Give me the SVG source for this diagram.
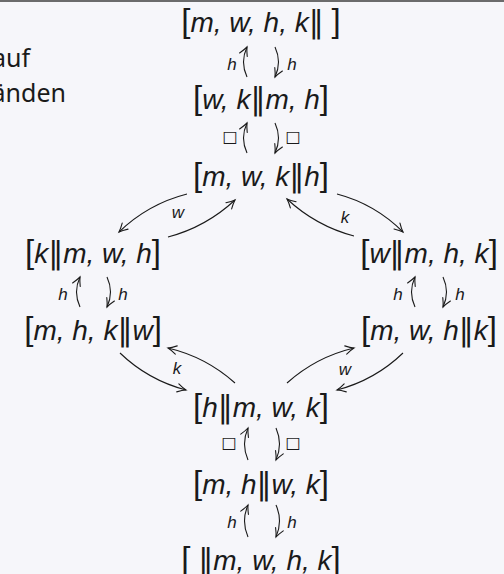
<svg xmlns="http://www.w3.org/2000/svg" width="504" height="574" viewBox="0 0 504 574">
<defs>
<marker id="ah" markerUnits="userSpaceOnUse" markerWidth="14" markerHeight="12" viewBox="-10 -6 12 12" refX="0" refY="0" orient="auto">
<path d="M -8.5 -4.2 Q -3.5 -1.2 0 0 Q -3.5 1.2 -8.5 4.2" fill="none" stroke="#1a1a1a" stroke-width="1.1" stroke-linecap="round"/>
</marker>
<style>
.n { font-family: "Liberation Sans", "DejaVu Sans", sans-serif; font-size: 28px; font-style: italic; fill: #1a1a1a; text-anchor: middle; }
.b { font-style: normal; font-size: 33px; }
.p { font-family: "DejaVu Sans", sans-serif; font-style: normal; font-size: 30px; }
.l { font-family: "Liberation Sans", "DejaVu Sans", sans-serif; font-size: 17px; font-style: italic; fill: #1a1a1a; text-anchor: middle; }
.sq { font-family: "DejaVu Sans", sans-serif; font-size: 16px; fill: #1a1a1a; text-anchor: middle; }
.side { font-family: "Noto Sans", "Open Sans", sans-serif; font-size: 25px; fill: #1a1a1a; text-anchor: end; }
.e { fill: none; stroke: #1a1a1a; stroke-width: 1.1; marker-end: url(#ah); }
</style>
</defs>
<rect x="0" y="0" width="504" height="574" fill="#f6f6fa"/>
<line x1="0" y1="1" x2="504" y2="1" stroke="#3c3c3c" stroke-width="1.6"/>
<g id="side-text">
<text class="side" x="30" y="67">auf</text>
<text class="side" x="66" y="102">änden</text>
</g>
<g id="n1"><text class="n" x="261" y="32"><tspan class="b">[</tspan>m, w, h, k<tspan class="p">‖</tspan> <tspan class="b">]</tspan></text></g>
<g id="n2"><text class="n" x="261" y="109"><tspan class="b">[</tspan>w, k<tspan class="p">‖</tspan>m, h<tspan class="b">]</tspan></text></g>
<g id="n3"><text class="n" x="261" y="186"><tspan class="b">[</tspan>m, w, k<tspan class="p">‖</tspan>h<tspan class="b">]</tspan></text></g>
<g id="n4"><text class="n" x="93" y="263"><tspan class="b">[</tspan>k<tspan class="p">‖</tspan>m, w, h<tspan class="b">]</tspan></text></g>
<g id="n5"><text class="n" x="429" y="263"><tspan class="b">[</tspan>w<tspan class="p">‖</tspan>m, h, k<tspan class="b">]</tspan></text></g>
<g id="n6"><text class="n" x="93" y="340"><tspan class="b">[</tspan>m, h, k<tspan class="p">‖</tspan>w<tspan class="b">]</tspan></text></g>
<g id="n7"><text class="n" x="429" y="340"><tspan class="b">[</tspan>m, w, h<tspan class="p">‖</tspan>k<tspan class="b">]</tspan></text></g>
<g id="n8"><text class="n" x="261" y="417"><tspan class="b">[</tspan>h<tspan class="p">‖</tspan>m, w, k<tspan class="b">]</tspan></text></g>
<g id="n9"><text class="n" x="261" y="494"><tspan class="b">[</tspan>m, h<tspan class="p">‖</tspan>w, k<tspan class="b">]</tspan></text></g>
<g id="n10"><text class="n" x="261" y="570"><tspan class="b">[</tspan> <tspan class="p">‖</tspan>m, w, h, k<tspan class="b">]</tspan></text></g>
<g id="connectors">
<path class="e" d="M 247 77 Q 240 62 247 47"/>
<path class="e" d="M 275 47 Q 282 62 275 77"/>
<path class="e" d="M 247 153 Q 240 138 247 123"/>
<path class="e" d="M 275 123 Q 282 138 275 153"/>
<path class="e" d="M 80 307 Q 73 292 80 277"/>
<path class="e" d="M 107 277 Q 114 292 107 307"/>
<path class="e" d="M 415 307 Q 408 292 415 277"/>
<path class="e" d="M 443 277 Q 450 292 443 307"/>
<path class="e" d="M 248 460 Q 241 444 248 428"/>
<path class="e" d="M 276 428 Q 283 444 276 460"/>
<path class="e" d="M 248 537 Q 241 521 248 505"/>
<path class="e" d="M 276 505 Q 283 521 276 537"/>
<path class="e" d="M 187 194 Q 148 204 119 232"/>
<path class="e" d="M 168 237 Q 206 227 235 200"/>
<path class="e" d="M 337 194 Q 375 204 403 232"/>
<path class="e" d="M 354 236 Q 316 226 287 199"/>
<path class="e" d="M 120 353 Q 148 380 186 390"/>
<path class="e" d="M 235 383 Q 206 357 168 348"/>
<path class="e" d="M 287 383 Q 316 357 354 348"/>
<path class="e" d="M 403 353 Q 375 380 337 390"/>
</g>
<g id="connector-labels">
<text class="l" x="232" y="70">h</text>
<text class="l" x="292" y="70">h</text>
<text class="sq" x="230" y="142">□</text>
<text class="sq" x="293" y="142">□</text>
<text class="l" x="63" y="300">h</text>
<text class="l" x="123" y="300">h</text>
<text class="l" x="398" y="300">h</text>
<text class="l" x="460" y="300">h</text>
<text class="sq" x="229" y="448">□</text>
<text class="sq" x="293" y="448">□</text>
<text class="l" x="232" y="528">h</text>
<text class="l" x="292" y="528">h</text>
<text class="l" x="178" y="218">w</text>
<text class="l" x="345" y="223">k</text>
<text class="l" x="177" y="374">k</text>
<text class="l" x="345" y="375">w</text>
</g>
</svg>
